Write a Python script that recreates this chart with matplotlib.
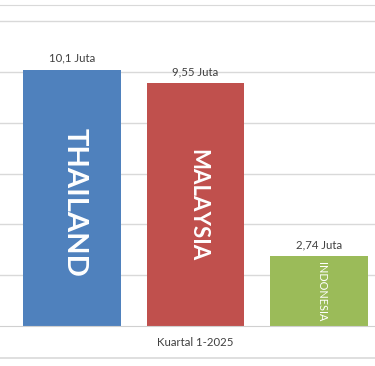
import matplotlib.pyplot as plt
from matplotlib.lines import Line2D

# kunjungan wisman kuartal 1-2025 (juta)
countries = ['THAILAND', 'MALAYSIA', 'INDONESIA']
values = [10.1, 9.55, 2.74]
value_labels = ['10,1 Juta', '9,55 Juta', '2,74 Juta']
colors = ['#4F81BD', '#C0504D', '#9BBB59']
name_sizes = [21, 16, 7.8]
period = 'Kuartal 1-2025'

plt.rcParams['font.family'] = ['Lato', 'DejaVu Sans']

fig = plt.figure(figsize=(3.75, 3.66), dpi=100)
ax = fig.add_axes([0, 40 / 366, 1, 321 / 366])

x = range(len(countries))
ax.bar(x, values, width=0.79, color=colors, zorder=2)

ax.set_xlim(-0.583, 2.453)
ax.set_ylim(0, 12.64)
ax.set_yticks([2, 4, 6, 8, 10, 12])
ax.yaxis.grid(True, color='#D9D9D9', linewidth=1)
ax.set_axisbelow(True)
ax.tick_params(left=False, bottom=False, labelleft=False, labelbottom=False)
for side in ['left', 'right']:
    ax.spines[side].set_visible(False)
ax.spines['top'].set_color('#D9D9D9')
ax.spines['bottom'].set_color('#D0D0D0')

for i, v in enumerate(values):
    ax.text(i, v + 0.25, value_labels[i], ha='center', va='bottom',
            fontsize=8.2, color='#404040')
    ax.text(i + 0.02, min(v / 2, 4.85), countries[i], rotation=-90,
            ha='center', va='center', fontsize=name_sizes[i],
            fontweight='bold' if i < 2 else 'normal', color='white')

fig.text(195 / 375, 1 - 342 / 366, period, ha='center', va='center',
         fontsize=8.2, color='#404040')
fig.add_artist(Line2D([0, 1], [8 / 366, 8 / 366], color='#D9D9D9',
                      linewidth=1.2, transform=fig.transFigure))

fig.savefig('out.png', dpi=100)
